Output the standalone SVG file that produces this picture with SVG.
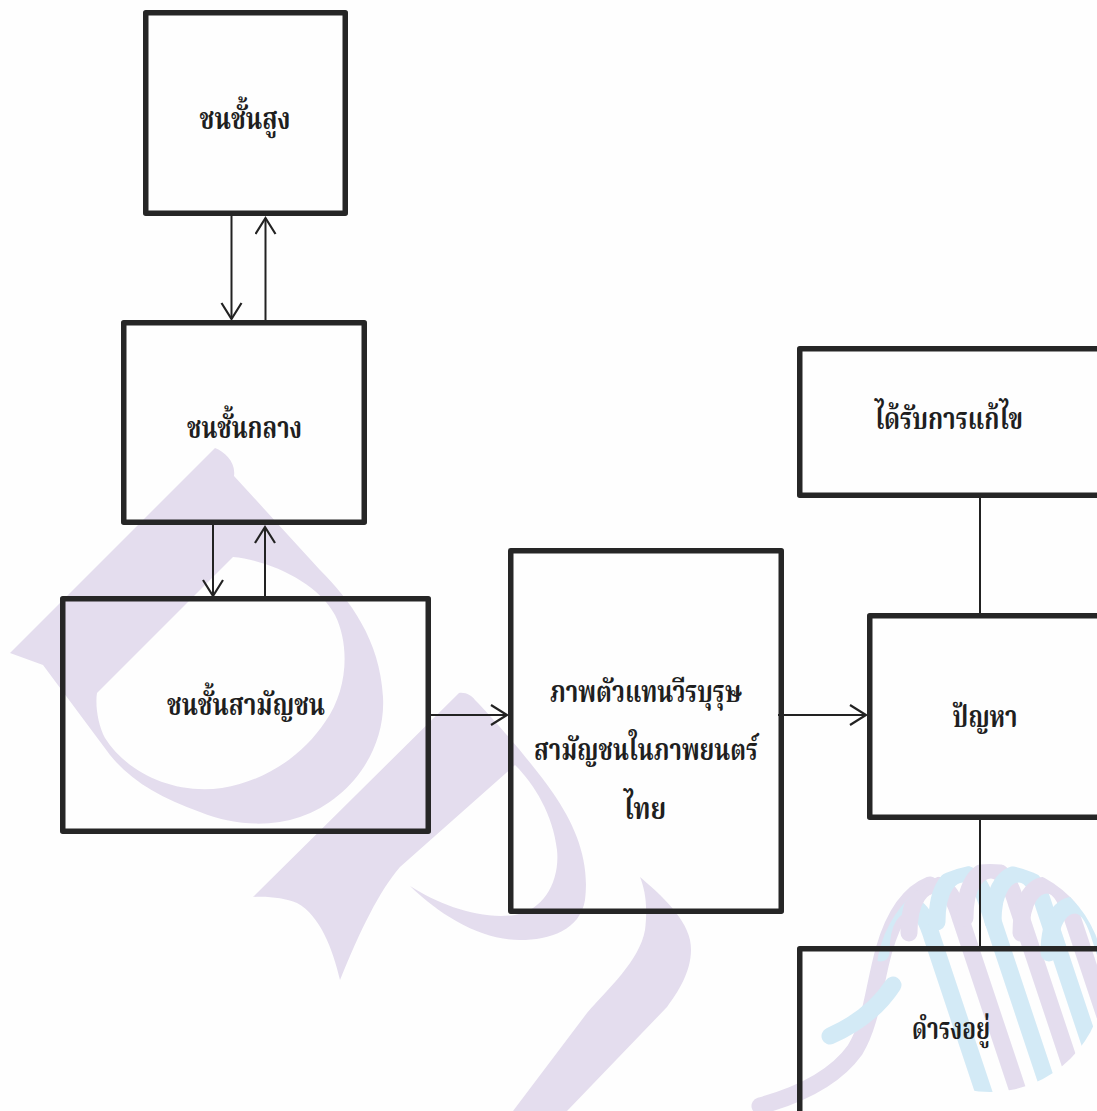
<svg xmlns="http://www.w3.org/2000/svg" width="1097" height="1111" viewBox="0 0 1097 1111">
  <style>
    .box { fill: none; stroke: #262626; stroke-width: 5.5; stroke-linejoin: round; }
    .label { font-family: "Norasi", "Noto Serif Thai", "Noto Sans Thai Looped", "Noto Sans Thai", "Liberation Serif", serif; font-size: 31px; font-weight: bold; fill: #1f1f1f; text-anchor: middle; }
    .conn { fill: none; stroke: #222; stroke-width: 2; }
    .wm-lav { fill: #e4ddee; }
    .rib-lav { fill: none; stroke: #e4ddee; stroke-width: 17; stroke-linecap: round; }
    .rib-cyan { fill: none; stroke: #d3eaf6; stroke-width: 17; stroke-linecap: round; }
  </style>
  <defs>
    <marker id="open-arrow" markerUnits="userSpaceOnUse" markerWidth="22" markerHeight="24" refX="17" refY="11" orient="auto">
      <path d="M1,1 L17,11 L1,21" fill="none" stroke="#222" stroke-width="2.2"/>
    </marker>
    <clipPath id="ball">
      <circle cx="990" cy="978" r="114"/>
    </clipPath>
    <!-- one ribbon stripe: hooked top, long diagonal body -->
    <path id="stripe" d="M-24,48 C-24,12 -10,0 2,0 C15,0 22,15 28,35 L88,215"/>
  </defs>

  <rect width="1097" height="1111" fill="#fefefe"/>

  <!-- background watermark: letter loops and ribbon ball -->
  <g id="watermark">
    <path class="wm-lav" fill-rule="evenodd" d="M215,448 C225,452 236,462 234,476 L320,570 C350,600 380,640 383,697 C386,750 350,800 300,817 C270,827 235,826 200,812 C160,798 130,780 110,755 L43,665 L10,653 Z M97,693 L233,557 C268,560 318,582 335,615 C350,645 348,690 325,722 C305,752 270,780 222,788 C170,795 125,770 105,738 C98,725 95,705 97,693 Z"/>
    <path class="wm-lav" d="M253,897 L459,693 C466,692 472,696 475,700 C490,715 530,760 553,793 C575,825 590,860 585,900 C580,930 550,940 520,940 C480,940 440,915 410,886 C440,905 480,920 515,915 C545,910 560,880 557,850 C553,815 535,785 515,765 L400,867 C380,890 360,930 340,980 C333,950 320,915 297,903 C285,898 268,896 253,897 Z"/>
    <path class="wm-lav" d="M640,877 C655,890 685,915 690,940 C695,965 680,990 667,1007 L567,1111 L513,1111 L587,1013 C607,990 640,960 645,930 C648,905 645,890 640,877 Z"/>
    <!-- outer arc and tails of the ribbon ball -->
    <path class="rib-lav" d="M760,1106 C800,1095 835,1078 855,1050 C872,1022 874,985 884,950 C894,915 910,893 930,885"/>
    <path class="rib-cyan" d="M830,1036 C855,1025 878,1008 893,985"/>
    <g clip-path="url(#ball)">
      <use href="#stripe" class="rib-cyan" x="905" y="905"/>
      <use href="#stripe" class="rib-lav" x="933" y="885"/>
      <use href="#stripe" class="rib-cyan" x="961" y="874"/>
      <use href="#stripe" class="rib-lav" x="989" y="870"/>
      <use href="#stripe" class="rib-cyan" x="1017" y="874"/>
      <use href="#stripe" class="rib-lav" x="1045" y="885"/>
      <use href="#stripe" class="rib-cyan" x="1073" y="905"/>
    </g>
  </g>

  <!-- connectors -->
  <g id="connectors">
    <line class="conn" x1="231.5" y1="216" x2="231.5" y2="319" marker-end="url(#open-arrow)"/>
    <line class="conn" x1="265.5" y1="321" x2="265.5" y2="218" marker-end="url(#open-arrow)"/>
    <line class="conn" x1="213" y1="524" x2="213" y2="596" marker-end="url(#open-arrow)"/>
    <line class="conn" x1="265" y1="598" x2="265" y2="527" marker-end="url(#open-arrow)"/>
    <line class="conn" x1="431" y1="715" x2="507" y2="715" marker-end="url(#open-arrow)"/>
    <line class="conn" x1="778" y1="715" x2="866" y2="715" marker-end="url(#open-arrow)"/>
    <line class="conn" x1="980" y1="497" x2="980" y2="614"/>
    <line class="conn" x1="980" y1="819" x2="980" y2="947"/>
  </g>

  <g id="node-upper">
    <rect class="box" x="145.75" y="12.75" width="199.5" height="200.5"/>
    <text class="label" x="245" y="129" textLength="91" lengthAdjust="spacingAndGlyphs">ชนชั้นสูง</text>
  </g>
  <g id="node-middle">
    <rect class="box" x="123.75" y="322.75" width="240.5" height="199.5"/>
    <text class="label" x="244.5" y="438" textLength="115" lengthAdjust="spacingAndGlyphs">ชนชั้นกลาง</text>
  </g>
  <g id="node-common">
    <rect class="box" x="62.75" y="598.75" width="365.5" height="232.5"/>
    <text class="label" x="246" y="715" textLength="158" lengthAdjust="spacingAndGlyphs">ชนชั้นสามัญชน</text>
  </g>
  <g id="node-hero">
    <rect class="box" x="510.75" y="550.75" width="270.5" height="360.5"/>
    <text class="label" x="646" y="702" textLength="192" lengthAdjust="spacingAndGlyphs">ภาพตัวแทนวีรบุรุษ</text>
    <text class="label" x="646" y="760" textLength="224" lengthAdjust="spacingAndGlyphs">สามัญชนในภาพยนตร์</text>
    <text class="label" x="645" y="819" textLength="42" lengthAdjust="spacingAndGlyphs">ไทย</text>
  </g>
  <g id="node-solved">
    <rect class="box" x="799.75" y="348.75" width="300" height="146.5"/>
    <text class="label" x="949" y="429" textLength="148" lengthAdjust="spacingAndGlyphs">ได้รับการแก้ไข</text>
  </g>
  <g id="node-problem">
    <rect class="box" x="869.75" y="615.75" width="240" height="201.5"/>
    <text class="label" x="985" y="727" textLength="65" lengthAdjust="spacingAndGlyphs">ปัญหา</text>
  </g>
  <g id="node-persist">
    <rect class="box" x="799.75" y="948.75" width="310" height="200"/>
    <text class="label" x="951" y="1039" textLength="78" lengthAdjust="spacingAndGlyphs">ดำรงอยู่</text>
  </g>
</svg>
